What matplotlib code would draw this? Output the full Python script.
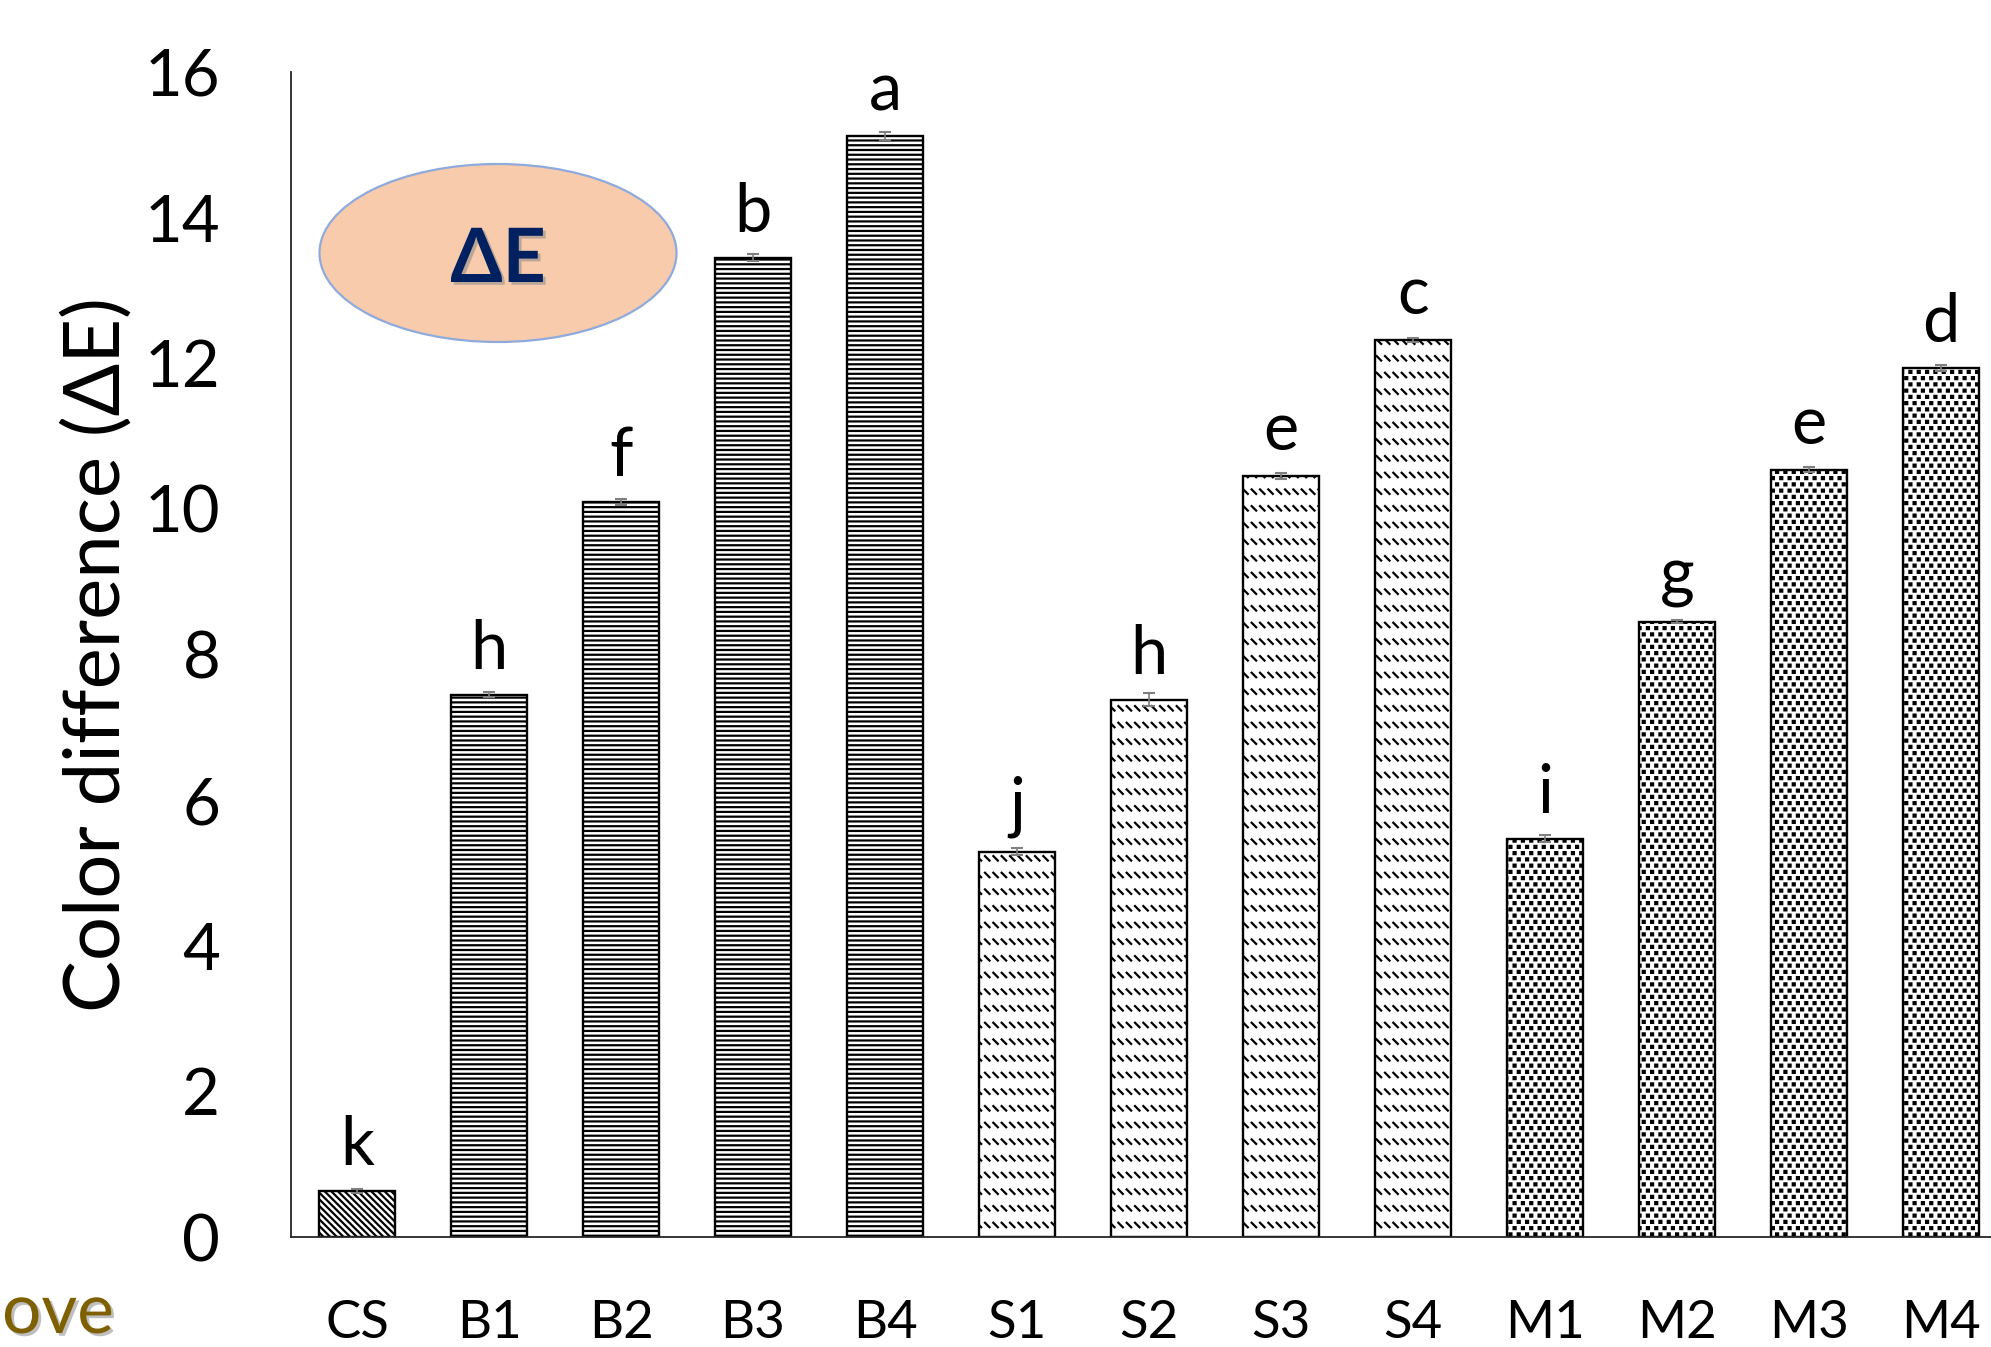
import warnings
warnings.filterwarnings("ignore")
import numpy as np
import matplotlib
matplotlib.use("Agg")
import matplotlib.pyplot as plt
import matplotlib.hatch as mhatch
import matplotlib.patheffects as pe
from matplotlib.patches import Ellipse
from matplotlib.path import Path

# ---------------- data ----------------
categories = ["CS", "B1", "B2", "B3", "B4", "S1", "S2", "S3", "S4", "M1", "M2", "M3", "M4"]
values = [0.63, 7.45, 10.10, 13.45, 15.12, 5.29, 7.38, 10.45, 12.32, 5.47, 8.45, 10.54, 11.94]
errors = [0.03, 0.03, 0.04, 0.05, 0.05, 0.05, 0.09, 0.04, 0.03, 0.05, 0.02, 0.04, 0.04]
letters = ["k", "h", "f", "b", "a", "j", "h", "e", "c", "i", "g", "e", "d"]
groups = ["C", "B", "B", "B", "B", "S", "S", "S", "S", "M", "M", "M", "M"]
yticks = [0, 2, 4, 6, 8, 10, 12, 14, 16]


# ---------------- custom hatch patterns ----------------
class DiagSE(mhatch.HatchPatternBase):
    def __init__(self, hatch, density):
        self.m = 15 * hatch.count('`')
        self.num_vertices = (2 * self.m + 1) * 2 if self.m else 0

    def set_vertices_and_codes(self, vertices, codes):
        m = self.m
        k = 0
        for i in range(-m, m + 1):
            a = i / m
            vertices[k] = (a, 1.0)
            vertices[k + 1] = (a + 1.0, 0.0)
            codes[k] = Path.MOVETO
            codes[k + 1] = Path.LINETO
            k += 2


class HLines(mhatch.HatchPatternBase):
    def __init__(self, hatch, density):
        self.n = 21 * hatch.count('=')
        self.num_vertices = self.n * 2

    def set_vertices_and_codes(self, vertices, codes):
        for r in range(self.n):
            y = (r + 0.5) / self.n
            vertices[2 * r] = (0.0, y)
            vertices[2 * r + 1] = (1.0, y)
            codes[2 * r] = Path.MOVETO
            codes[2 * r + 1] = Path.LINETO


class DashRows(mhatch.HatchPatternBase):
    def __init__(self, hatch, density):
        n = hatch.count('~')
        self.rows = 6 * n
        self.cols = 12 * n
        self.num_vertices = self.rows * self.cols * 2

    def set_vertices_and_codes(self, vertices, codes):
        d = 0.045
        k = 0
        for r in range(self.rows):
            y = (r + 0.5) / self.rows
            for c in range(self.cols):
                x = (c + 0.2) / self.cols
                vertices[k] = (x, y + d / 2)
                vertices[k + 1] = (x + d, y - d / 2)
                codes[k] = Path.MOVETO
                codes[k + 1] = Path.LINETO
                k += 2


class SquareDots(mhatch.HatchPatternBase):
    filled = True

    def __init__(self, hatch, density):
        n = hatch.count('#')
        self.rows = 16 * n
        self.cols = 12 * n
        self.num_vertices = self.rows * self.cols * 5

    def set_vertices_and_codes(self, vertices, codes):
        s = 0.02
        k = 0
        for r in range(self.rows):
            y = (r + 0.5) / self.rows
            off = 0.5 / self.cols if r % 2 else 0.0
            for c in range(self.cols):
                x = (c + 0.25) / self.cols + off
                vertices[k:k + 5] = [(x - s / 2, y - s / 2), (x + s / 2, y - s / 2),
                                     (x + s / 2, y + s / 2), (x - s / 2, y + s / 2),
                                     (x - s / 2, y - s / 2)]
                codes[k:k + 5] = [Path.MOVETO, Path.LINETO, Path.LINETO,
                                  Path.LINETO, Path.CLOSEPOLY]
                k += 5


mhatch._hatch_types.extend([DiagSE, HLines, DashRows, SquareDots])
hatch_for = {"C": "`", "B": "=", "S": "~", "M": "#"}

plt.rcParams['font.family'] = ['Lato', 'DejaVu Sans']
plt.rcParams['hatch.linewidth'] = 1.6
plt.rcParams['hatch.color'] = 'black'

W, H = 1991, 1347
fig = plt.figure(figsize=(W / 100, H / 100), dpi=100)
ax = fig.add_axes([291 / W, 110 / H, 1716 / W, 1165 / H])

x = np.arange(len(categories))
bars = ax.bar(x, values, width=0.576, color='white', edgecolor='black',
              linewidth=1.7, zorder=2)
for b, g in zip(bars, groups):
    b.set_hatch(hatch_for[g])

ax.errorbar(x, values, yerr=errors, fmt='none', ecolor='#7f7f7f',
            elinewidth=1.2, capsize=4.3, capthick=1.5, zorder=3)

for xi, v, lab in zip(x, values, letters):
    ax.annotate(lab, (xi, v), xytext=(0, 10), textcoords='offset points',
                ha='center', va='bottom', fontsize=48, color='black')

ax.set_xlim(-0.5, len(categories) - 0.5)
ax.set_ylim(0, 16)
ax.set_yticks(yticks)
ax.set_yticklabels([str(t) for t in yticks], fontsize=47)
ax.set_xticks(x)
ax.set_xticklabels(categories, fontsize=38)
ax.tick_params(axis='y', length=0, pad=51)
ax.tick_params(axis='x', length=0, pad=45)
for s in ['top', 'right']:
    ax.spines[s].set_visible(False)
for s in ['left', 'bottom']:
    ax.spines[s].set_linewidth(1.3)
    ax.spines[s].set_color('#262626')

ax.set_ylabel('Color difference (ΔE)', fontsize=56)
ax.yaxis.set_label_coords(-0.092, 0.5)

# decorative ellipse with ΔE
ell = Ellipse((498 / W, 1 - 253 / H), 357 / W, 178 / H, transform=fig.transFigure,
              facecolor='#F8CBAD', edgecolor='#8FAADC', linewidth=1.6, zorder=5)
fig.patches.append(ell)
fig.text(498 / W, 1 - 282 / H, 'ΔE', fontsize=54, fontweight='bold', color='#002060',
         ha='center', va='baseline', zorder=6,
         path_effects=[pe.SimplePatchShadow(offset=(2, -2), shadow_rgbFace='#808080', alpha=0.5),
                       pe.Normal()])

# text at bottom-left
fig.text(2 / W, 1 - 1333 / H, 'ove', fontsize=50, color='#7F6000',
         ha='left', va='baseline',
         path_effects=[pe.SimplePatchShadow(offset=(2, -2), shadow_rgbFace='#808080', alpha=0.5),
                       pe.Normal()])

fig.savefig('out.png', dpi=100)
